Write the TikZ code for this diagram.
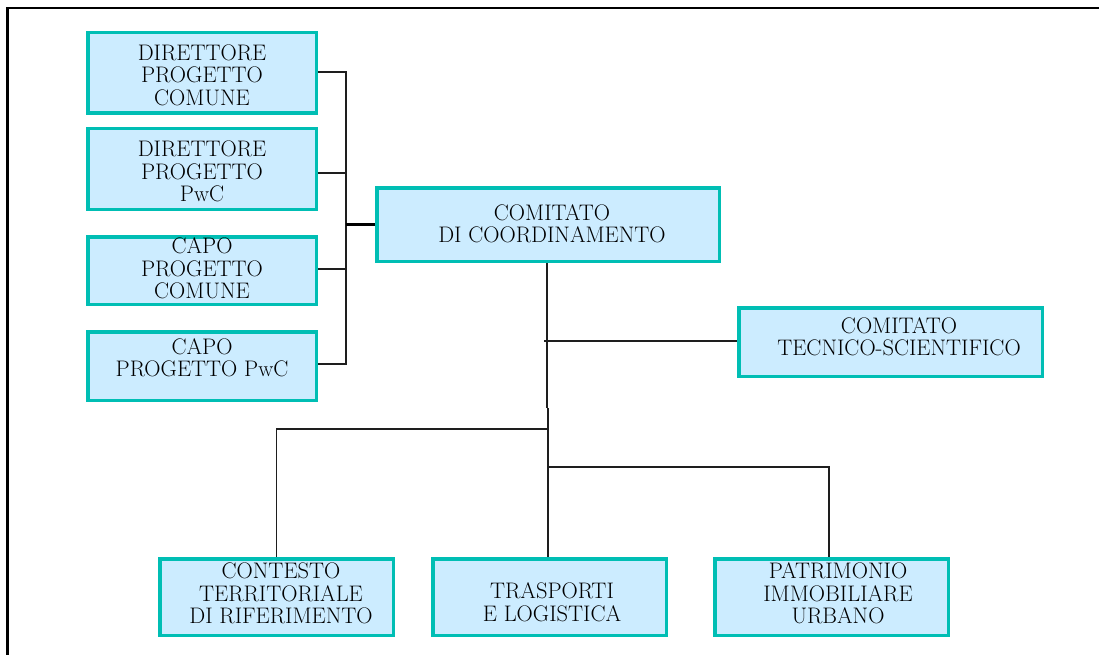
\documentclass[tikz,border=0pt]{standalone}
\usepackage{tikz}
\definecolor{boxfill}{RGB}{204,236,255}
\definecolor{boxline}{RGB}{0,190,180}
\definecolor{linecol}{RGB}{30,30,30}
\tikzset{
  box/.style={draw=boxline, fill=boxfill, line width=3.5pt, inner sep=0pt, rectangle},
  txt/.style={align=center, inner sep=0pt, font=\fontsize{22.5}{22.5}\selectfont, text=black},
  conn/.style={draw=linecol, line width=1.3pt},
  thickconn/.style={draw=black, line width=2.2pt},
  frame/.style={draw=black, line width=2.5pt}
}
\begin{document}
\begin{tikzpicture}[x=1pt,y=-1pt]
\useasboundingbox (0,0) rectangle (1099,655);
% frame (top and left edges)
\coordinate (fTR) at (1099,8);
\coordinate (fTL) at (7.5,8);
\coordinate (fBL) at (7.5,655);
\draw[frame] (fTR) -- (fTL) -- (fBL);

% boxes
\node[box, minimum width=228.5pt, minimum height=80.5pt] (d1) at (202,73) {};
\node[box, minimum width=228.5pt, minimum height=80.5pt] (d2) at (202,169) {};
\node[box, minimum width=228.5pt, minimum height=67.5pt] (c1) at (202,270.5) {};
\node[box, minimum width=228.5pt, minimum height=68.5pt] (c2) at (202,366) {};
\node[box, minimum width=342.5pt, minimum height=73.5pt] (cc) at (548,224.5) {};
\node[box, minimum width=303.5pt, minimum height=68.5pt] (ts) at (890.5,342) {};
\node[box, minimum width=233.5pt, minimum height=76.5pt] (ct) at (276.5,597) {};
\node[box, minimum width=233.5pt, minimum height=76.5pt] (tl) at (549.5,597) {};
\node[box, minimum width=233.5pt, minimum height=76.5pt] (pi) at (831.5,597) {};

% texts
\node[txt] (d1t) at (202,75) {DIRETTORE\\PROGETTO\\COMUNE};
\node[txt] (d2t) at (202,171.5) {DIRETTORE\\PROGETTO\\PwC};
\node[txt] (c1t) at (202,268.5) {CAPO\\PROGETTO\\COMUNE};
\node[txt] (c2t) at (202,357.5) {CAPO\\PROGETTO PwC};
\node[txt] (cct) at (552,223.5) {COMITATO\\DI COORDINAMENTO};
\node[txt] (tst) at (899,336.5) {COMITATO\\TECNICO-SCIENTIFICO};
\node[txt] (ctt) at (281,593.5) {CONTESTO\\TERRITORIALE\\DI RIFERIMENTO};
\node[txt] (tlt) at (552,602) {TRASPORTI\\E LOGISTICA};
\node[txt] (pit) at (838,593.5) {PATRIMONIO\\IMMOBILIARE\\URBANO};

% left bus
\coordinate (busT) at (346,72);
\coordinate (busB) at (346,364);
\coordinate (busD2) at (346,173);
\coordinate (busC1) at (346,269);
\draw[conn] (d1.east |- busT) -- (busT) -- (busB) -- (c2.east |- busB);
\draw[conn] (d2.east |- busD2) -- (busD2);
\draw[conn] (c1.east |- busC1) -- (busC1);
\draw[thickconn] (cc.west) -- (cc.west -| busT);

% central trunk
\coordinate (trunkMid) at (547,408);
\coordinate (trunkMid2) at (548,408);
\draw[conn] (cc.south -| trunkMid) -- (trunkMid);
\draw[conn] (trunkMid2) -- (tl.north -| trunkMid2);

% comitato tecnico
\coordinate (tsJ) at (544,341);
\draw[conn] (tsJ) -- (ts.west |- tsJ);

% contesto
\coordinate (ctJ) at (547,429);
\draw[conn] (ctJ) -- (ct.north |- ctJ) -- (ct.north);

% patrimonio
\coordinate (piJ) at (548,467);
\coordinate (piX) at (829,467);
\draw[conn] (piJ) -- (piX) -- (piX |- pi.north);
\end{tikzpicture}
\end{document}
